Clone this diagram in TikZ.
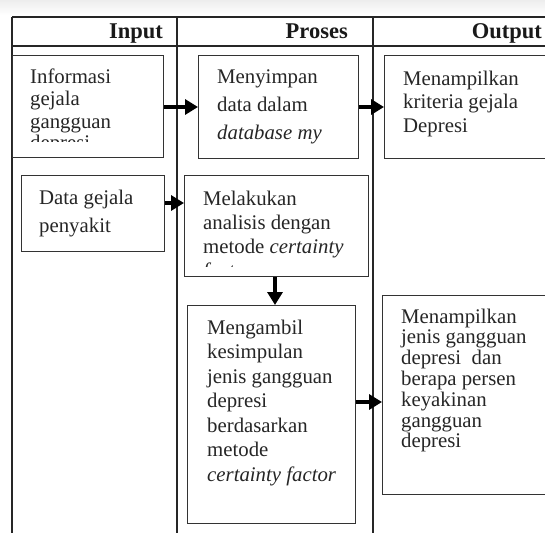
\documentclass[tikz,border=0pt]{standalone}
\usepackage{fontspec}
\setmainfont{Liberation Serif}
\usetikzlibrary{arrows.meta}
\newcommand\boxtext[2]{\parbox[t]{230pt}{\fontsize{20.8}{#1}\selectfont\raggedright #2}}
\tikzset{
  tline/.style={line width=1.3pt, draw=black!85},
  pbox/.style={draw=black!80, line width=1.2pt, rectangle, inner sep=0pt, anchor=north west},
  ptext/.style={anchor=base west, inner sep=0pt, text=black!85},
  headtext/.style={anchor=base east, inner sep=0pt, text=black!90, font=\fontsize{22.5}{24}\selectfont\bfseries},
  flow/.style={line width=3.8pt, draw=black, -{Triangle[length=13pt,width=15pt]}},
}
\begin{document}
\begin{tikzpicture}[x=1pt,y=-1pt]
\useasboundingbox (0,0) rectangle (545,532);
\fill[white] (0,0) rectangle (545,532);
\shade[top color=black!7, bottom color=white] (0,0) rectangle (545,15);
% table
\draw[tline] (12,17) -- (548,17);
\draw[tline] (12,46) -- (548,46);
\draw[tline] (12,17) -- (12,533);
\draw[tline] (177,17) -- (177,533);
\draw[tline] (373,17) -- (373,533);
\node[headtext] (hin) at (163,39) {Input};
\node[headtext] (hpr) at (348,39) {Proses};
\node[headtext] (hout) at (542,39) {Output};
% boxes
\node[pbox, minimum width=151pt, minimum height=102pt] (b1) at (12,55) {};
\node[pbox, minimum width=160pt, minimum height=103pt] (b2) at (198,55) {};
\node[pbox, minimum width=180pt, minimum height=103pt] (b3) at (384,55) {};
\node[pbox, minimum width=143pt, minimum height=76pt] (b4) at (21,175) {};
\node[pbox, minimum width=184pt, minimum height=101pt] (b5) at (184,175) {};
\node[pbox, minimum width=168pt, minimum height=218pt] (b6) at (187,305) {};
\node[pbox, minimum width=180pt, minimum height=199pt] (b7) at (382,295) {};
% texts
\begin{scope}
\clip (14,57) rectangle (161,141.5);
\node[ptext] (t1) at (30,84) {\boxtext{22pt}{Informasi\\gejala\\gangguan\\depresi}};
\end{scope}
\node[ptext] (t2) at (217,84) {\boxtext{27.5pt}{Menyimpan\\data dalam\\\textit{database my}}};
\node[ptext] (t3) at (403,85) {\boxtext{23.5pt}{Menampilkan\\kriteria gejala\\Depresi}};
\node[ptext] (t4) at (39,204) {\boxtext{28.5pt}{Data gejala\\penyakit}};
\begin{scope}
\clip (186,177) rectangle (366,266.5);
\node[ptext] (t5) at (203,205) {\boxtext{24pt}{Melakukan\\analisis dengan\\metode \textit{certainty}\\\textit{factor}}};
\end{scope}
\node[ptext] (t6) at (207,334) {\boxtext{24.5pt}{Mengambil\\kesimpulan\\jenis gangguan\\depresi\\berdasarkan\\metode\\\textit{certainty factor}}};
\node[ptext] (t7) at (401,323) {\boxtext{20.8pt}{Menampilkan\\jenis gangguan\\depresi\ \ dan\\berapa persen\\keyakinan\\gangguan\\depresi}};
% arrows
\draw[flow] (b1.east |- 0,107) -- (b2.west |- 0,107);
\draw[flow] (b2.east |- 0,107) -- (b3.west |- 0,107);
\draw[flow] (b4.east |- 0,203) -- (b5.west |- 0,203);
\draw[flow] (b5.south -| 275,0) -- (b6.north -| 275,0);
\draw[flow] (b6.east |- 0,402) -- (b7.west |- 0,402);
\end{tikzpicture}
\end{document}
